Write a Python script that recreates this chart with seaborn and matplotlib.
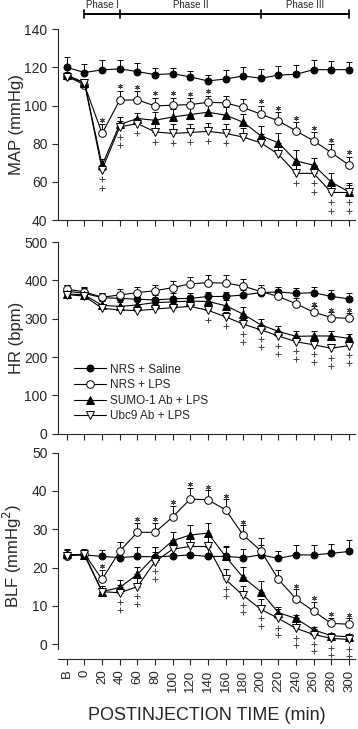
import numpy as np
import pandas as pd
import seaborn as sns
import matplotlib.pyplot as plt
from matplotlib.transforms import blended_transform_factory

# time points (B = baseline)
times = ['B', '0', '20', '40', '60', '80', '100', '120', '140', '160',
         '180', '200', '220', '240', '260', '280', '300']
groups = ['NRS + Saline', 'NRS + LPS', 'SUMO-1 Ab + LPS', 'Ubc9 Ab + LPS']

# MAP (mmHg)
saline_map = [120, 117.3, 118.7, 119.2, 117.8, 116.2, 116.7, 115, 112.9, 113.9, 115.5, 114.3, 115.9, 116.4, 118.8, 118.8, 118.8]
saline_map_err = [5.3, 4.4, 5, 4.9, 4.4, 3.3, 3.1, 3.3, 3.3, 4.6, 4.9, 4.6, 4.6, 4.6, 5.3, 4.4, 4.0]
lps_map = [115.5, 110.8, 85.4, 102.8, 103, 99.8, 100.2, 100.5, 101.7, 101.4, 99, 95.5, 92, 86.7, 81.5, 75.4, 68.8]
lps_map_err = [1.5, 1.5, 5, 5, 4.4, 4.4, 4, 3.5, 3.5, 3.5, 4.5, 4.5, 4.5, 4.5, 4.5, 4.5, 4.5]
sumo_map = [116, 112, 68.8, 90.1, 93.2, 92.3, 94, 95.3, 96.5, 95, 91.3, 84.2, 80.5, 71, 68.8, 59.9, 54.8]
sumo_map_err = [1.5, 1.5, 3, 4, 3, 4.4, 4.4, 4.5, 4.5, 4.5, 4.5, 5, 5, 5.5, 4, 5, 4.5]
ubc9_map = [115, 112, 66.5, 88.8, 90.6, 86.2, 85.4, 85.9, 86.5, 85.4, 83.5, 80.5, 74.5, 64.5, 64.5, 54.5, 54.5]
ubc9_map_err = [1.5, 2, 2.5, 3, 3, 4.4, 5.2, 4.5, 4.5, 5, 4.5, 4.5, 4.5, 4.5, 4, 5, 4]

# HR (bpm)
saline_hr = [372, 366, 355, 353, 351, 349, 352, 353, 358, 358, 362, 368, 370, 366, 368, 358, 352]
saline_hr_err = [15, 15, 12, 12, 15, 14, 14, 14, 12, 12, 12, 12, 12, 14, 15, 18, 15]
lps_hr = [377, 370, 356, 362, 368, 373, 381, 391, 394, 393, 385, 371, 358, 339, 317, 303, 301]
lps_hr_err = [12, 12, 12, 15, 15, 16, 18, 18, 20, 20, 18, 18, 16, 15, 15, 15, 15]
sumo_hr = [365, 362, 335, 332, 336, 342, 344, 346, 345, 334, 312, 284, 267, 254, 255, 255, 249]
sumo_hr_err = [12, 12, 10, 12, 12, 12, 12, 12, 14, 16, 18, 14, 14, 14, 14, 12, 12]
ubc9_hr = [363, 359, 327, 323, 321, 325, 329, 332, 322, 305, 286, 271, 255, 240, 232, 223, 230]
ubc9_hr_err = [10, 10, 10, 10, 10, 10, 10, 10, 12, 12, 12, 12, 12, 12, 12, 12, 12]

# BLF (mmHg^2)
saline_blf = [23.3, 23.3, 22.9, 22.6, 22.9, 22.8, 23.0, 23.3, 22.9, 22.9, 22.6, 23.3, 22.4, 23.3, 23.3, 23.7, 24.2]
saline_blf_err = [1.5, 1.5, 1.8, 2, 2.5, 2.5, 2.5, 2.5, 2.5, 2.5, 2.2, 2.7, 1.8, 2.5, 2.5, 2.5, 2.9]
lps_blf = [23, 23.6, 16.9, 24.3, 29.2, 29.2, 33.2, 37.9, 37.7, 35.1, 28.5, 24.4, 16.9, 11.8, 8.6, 5.4, 5.2]
lps_blf_err = [1, 1, 2.5, 2.5, 2.5, 2.5, 3, 3, 2.5, 2.7, 2.5, 3.4, 2.5, 2.5, 2.5, 1.5, 1.5]
sumo_blf = [23.5, 23.2, 13.7, 14.8, 18.2, 23.0, 27.0, 28.5, 29.0, 22.9, 17.4, 13.7, 8.2, 6.7, 3.7, 2.2, 1.9]
sumo_blf_err = [1.2, 1.2, 1.5, 2, 2, 2.3, 2.3, 2.7, 2.7, 2.8, 2.8, 2.7, 1.5, 1, 0.8, 0.8, 0.8]
ubc9_blf = [23.0, 23.5, 13.7, 13.4, 15.0, 21.5, 24.8, 25.5, 25.5, 16.9, 12.7, 9.1, 6.7, 4.1, 2.5, 1.5, 1.2]
ubc9_blf_err = [1, 1, 1.5, 2, 2.5, 2.5, 2.5, 2.5, 2.5, 2.7, 2.5, 2.7, 2.5, 2, 1.5, 1.5, 1.5]

# significance marks: * vs saline (NRS + LPS), + vs NRS + LPS (antibody groups)
map_star = ['20', '40', '60', '80', '100', '120', '140', '200', '220', '240', '260', '280', '300']
map_plus_times = ['20', '40', '60', '80', '100', '120', '140', '160', '240', '260', '280', '300']
map_plus_counts = [2, 2, 1, 1, 1, 1, 1, 1, 1, 2, 2, 2]
hr_star = ['260', '280', '300']
hr_plus_times = ['140', '160', '180', '200', '220', '240', '260', '280', '300']
hr_plus_counts = [1, 1, 2, 2, 2, 2, 2, 2, 2]
blf_star = ['20', '60', '80', '100', '120', '140', '160', '180', '240', '260', '280', '300']
blf_plus_times = ['40', '60', '80', '160', '180', '200', '220', '240', '260', '280', '300']
blf_plus_counts = [2, 2, 2, 2, 2, 2, 2, 2, 2, 2, 2]

phase_edges = ['0', '40', '200', '300']
phase_names = ['Phase I', 'Phase II', 'Phase III']

sns.set_style('ticks')
plt.rcParams['font.family'] = ['Liberation Sans', 'DejaVu Sans']

styles = {
    'NRS + Saline': dict(marker='o', markerfacecolor='black', markersize=5),
    'NRS + LPS': dict(marker='o', markerfacecolor='white', markersize=5.5),
    'SUMO-1 Ab + LPS': dict(marker='^', markerfacecolor='black', markersize=5.5),
    'Ubc9 Ab + LPS': dict(marker='v', markerfacecolor='white', markersize=5.5),
}

x = np.arange(len(times))
mark_color = '#444444'


def draw_panel(ax, vals, errs, ylim, yticks, ylabel, star_t, plus_t, plus_n,
               star_off, plus_off, plus_step, labels=False):
    for g, v, e in zip(groups, vals, errs):
        ax.errorbar(x, v, yerr=[np.zeros(len(e)), e], fmt='none', ecolor='black',
                    elinewidth=0.7, capsize=2.3, capthick=0.7, zorder=2)
        df = pd.DataFrame({'time': x, 'value': v})
        sns.lineplot(data=df, x='time', y='value', ax=ax, color='black', lw=0.8,
                     markeredgecolor='black', markeredgewidth=0.7, zorder=3,
                     label=g if labels else None, legend=False, **styles[g])
    lps, lps_e = vals[1], errs[1]
    sx = [times.index(t) for t in star_t]
    sy = [lps[i] + lps_e[i] + star_off for i in sx]
    ax.plot(sx, sy, ls='none', marker=(6, 2, 0), ms=3.6, mew=0.6, color=mark_color, zorder=4)
    px, py = [], []
    for t, n in zip(plus_t, plus_n):
        i = times.index(t)
        base = min(vals[2][i], vals[3][i])
        for k in range(n):
            px.append(i)
            py.append(base - plus_off - k * plus_step)
    ax.plot(px, py, ls='none', marker='+', ms=5, mew=0.7, color=mark_color, zorder=4)

    ax.set_xlim(-0.5, 16.35)
    ax.set_ylim(*ylim)
    ax.set_yticks(yticks)
    ax.set_xticks(x)
    ax.set_ylabel(ylabel, fontsize=12)
    ax.yaxis.set_label_coords(-0.115, 0.5)
    ax.set_xlabel('')
    ax.tick_params(direction='out', length=4, width=0.8, labelsize=10)
    sns.despine(ax=ax)
    for s in ['left', 'bottom']:
        ax.spines[s].set_linewidth(0.8)


fig = plt.figure(figsize=(3.58, 7.29), dpi=100)
ax_map = fig.add_axes([0.162, 0.698, 0.83, 0.262])
ax_hr = fig.add_axes([0.162, 0.405, 0.83, 0.263])
ax_blf = fig.add_axes([0.162, 0.096, 0.83, 0.283])

draw_panel(ax_map, [saline_map, lps_map, sumo_map, ubc9_map],
           [saline_map_err, lps_map_err, sumo_map_err, ubc9_map_err],
           (40, 140), [40, 60, 80, 100, 120, 140], 'MAP (mmHg)',
           map_star, map_plus_times, map_plus_counts, 2.2, 5.2, 4.3)
draw_panel(ax_hr, [saline_hr, lps_hr, sumo_hr, ubc9_hr],
           [saline_hr_err, lps_hr_err, sumo_hr_err, ubc9_hr_err],
           (0, 500), [0, 100, 200, 300, 400, 500], 'HR (bpm)',
           hr_star, hr_plus_times, hr_plus_counts, 6, 25, 21, labels=True)
draw_panel(ax_blf, [saline_blf, lps_blf, sumo_blf, ubc9_blf],
           [saline_blf_err, lps_blf_err, sumo_blf_err, ubc9_blf_err],
           (-3.9, 50), [0, 10, 20, 30, 40, 50], 'BLF (mmHg$^2$)',
           blf_star, blf_plus_times, blf_plus_counts, 0.9, 2.4, 2.0)
ax_blf.spines['left'].set_bounds(-1.3, 50)

ax_map.set_xticklabels([])
ax_hr.set_xticklabels([])
ax_blf.set_xticklabels(times, rotation=90, fontsize=9.5)
ax_blf.set_xlabel('POSTINJECTION TIME (min)', fontsize=13, labelpad=11)

ax_hr.legend(loc='lower left', bbox_to_anchor=(0.055, 0.06), frameon=False,
             fontsize=8.5, handlelength=2.7, handletextpad=0.3, labelspacing=0.3,
             borderpad=0, borderaxespad=0)

# phase bar above the top panel
tr = blended_transform_factory(ax_map.transData, ax_map.transAxes)
edges = [times.index(t) for t in phase_edges]
ax_map.plot([edges[0], edges[-1]], [1.078, 1.078], color='black', lw=1.4,
            transform=tr, clip_on=False)
for e in edges:
    ax_map.plot([e, e], [1.058, 1.098], color='black', lw=1.2, transform=tr, clip_on=False)
for name, a, b in zip(phase_names, edges[:-1], edges[1:]):
    ax_map.text((a + b) / 2, 1.127, name, transform=tr, ha='center', va='center', fontsize=7)

fig.savefig('out.png', dpi=100)
